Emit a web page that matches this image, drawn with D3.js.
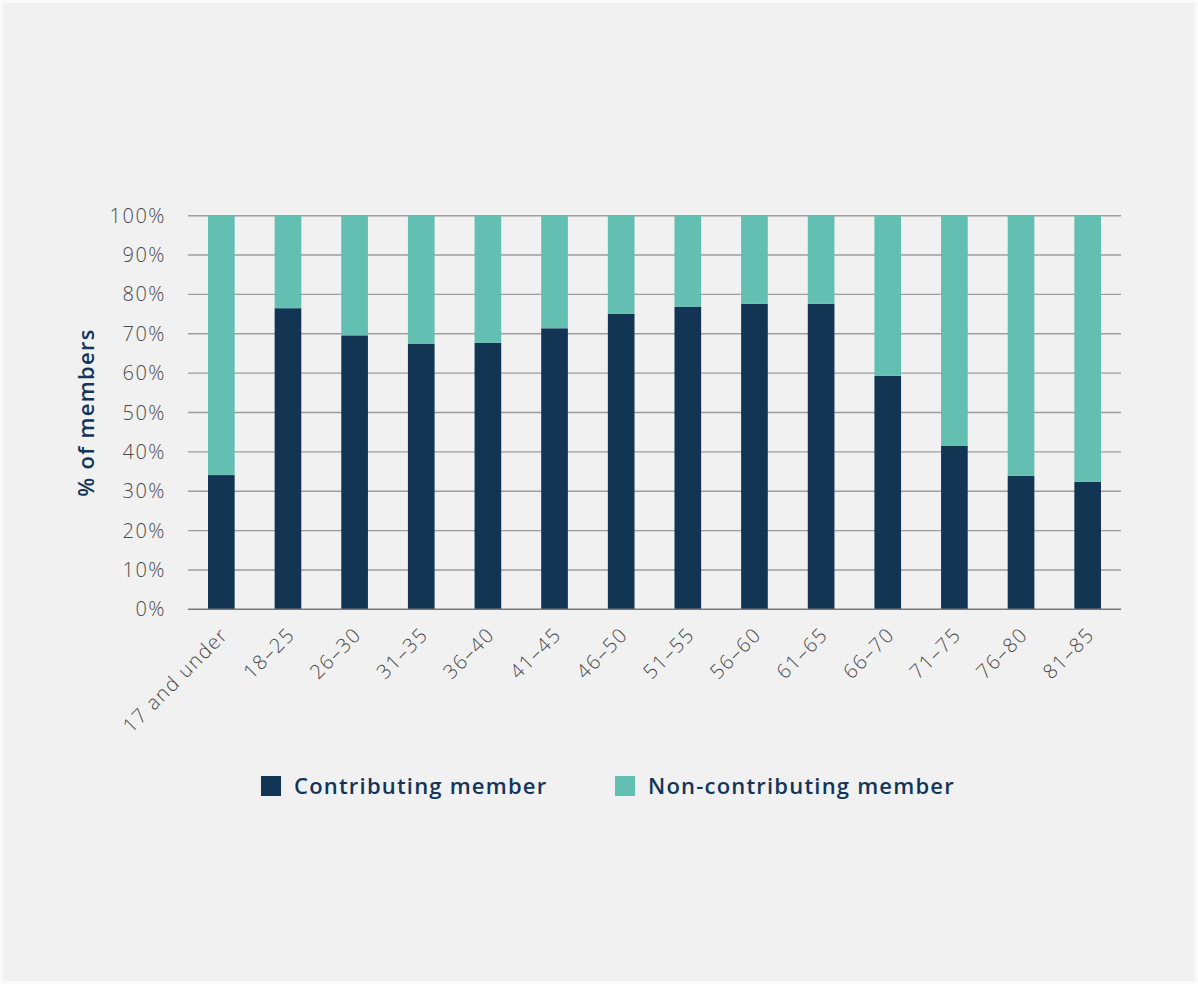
<!DOCTYPE html>
<html>
<head>
<meta charset="utf-8">
<script src="https://cdn.jsdelivr.net/npm/d3@7"></script>
<style>
  html, body { margin: 0; padding: 0; background: #fafafa; }
  svg { display: block; }
</style>
</head>
<body>
<script>
// Share of members by age band, split by contribution status
const ageBands = ["17 and under", "18–25", "26–30", "31–35", "36–40", "41–45", "46–50",
                  "51–55", "56–60", "61–65", "66–70", "71–75", "76–80", "81–85"];
const contributing = [34.1, 76.5, 69.6, 67.5, 67.7, 71.4, 75.1, 76.9, 77.6, 77.6, 59.3, 41.5, 33.9, 32.4];
const nonContributing = contributing.map(v => 100 - v);
const yTicks = [0, 10, 20, 30, 40, 50, 60, 70, 80, 90, 100];
const seriesNames = ["Contributing member", "Non-contributing member"];
const seriesColors = ["#113552", "#62bfb1"];

const W = 1198, H = 984;
const font = "'Open Sans', 'Noto Sans', sans-serif";

const svg = d3.select("body").append("svg")
  .attr("width", W).attr("height", H);

svg.append("rect")
  .attr("x", 3).attr("y", 3).attr("width", W - 6).attr("height", H - 6)
  .attr("fill", "#f1f1f1");

const x = d3.scaleBand()
  .domain(ageBands)
  .range([188, 1121])
  .paddingInner(0.6)
  .paddingOuter(0.3);

const y = d3.scaleLinear()
  .domain([0, 100])
  .range([609.3, 215.7]);

// gridlines
svg.append("g").selectAll("line")
  .data(yTicks.filter(t => t > 0))
  .join("line")
  .attr("x1", 188).attr("x2", 1121)
  .attr("y1", d => y(d)).attr("y2", d => y(d))
  .attr("stroke", "#9d9d9d").attr("stroke-width", 1.4);

// stacked bars
const rows = ageBands.map((a, i) => ({ band: a, c: contributing[i], n: nonContributing[i] }));
const stack = d3.stack().keys(["c", "n"])(rows);

svg.append("g").selectAll("g")
  .data(stack)
  .join("g")
  .attr("fill", (d, i) => seriesColors[i])
  .selectAll("rect")
  .data(d => d)
  .join("rect")
  .attr("x", d => x(d.data.band))
  .attr("width", x.bandwidth())
  .attr("y", d => y(d[1]))
  .attr("height", d => y(d[0]) - y(d[1]));

// baseline
svg.append("line")
  .attr("x1", 188).attr("x2", 1121)
  .attr("y1", y(0)).attr("y2", y(0))
  .attr("stroke", "#7a7a7a").attr("stroke-width", 1.5);

// y tick labels
svg.append("g").selectAll("text")
  .data(yTicks)
  .join("text")
  .attr("x", 166)
  .attr("y", d => y(d))
  .attr("dy", "0.35em")
  .attr("text-anchor", "end")
  .attr("font-family", font)
  .attr("font-size", 20)
  .attr("font-weight", 300)
  .attr("letter-spacing", 1.5)
  .attr("fill", "#4a4a4a")
  .text(d => d + "%");

// x category labels
svg.append("g").selectAll("text")
  .data(ageBands)
  .join("text")
  .attr("transform", d => `translate(${x(d) + x.bandwidth() / 2 + 8},${636}) rotate(-45)`)
  .attr("text-anchor", "end")
  .attr("font-family", font)
  .attr("font-size", 20)
  .attr("font-weight", 300)
  .attr("letter-spacing", 1.4)
  .attr("fill", "#474747")
  .text(d => d);

// y axis title
svg.append("text")
  .attr("transform", `translate(94,${(y(0) + y(100)) / 2}) rotate(-90)`)
  .attr("text-anchor", "middle")
  .attr("font-family", font)
  .attr("font-size", 22)
  .attr("font-weight", 600)
  .attr("letter-spacing", 1.3)
  .attr("fill", "#12355b")
  .text("% of members");

// legend
const legendX = [261, 615];
const legend = svg.append("g").selectAll("g")
  .data(seriesNames)
  .join("g")
  .attr("transform", (d, i) => `translate(${legendX[i]},776)`);
legend.append("rect")
  .attr("width", 20).attr("height", 20)
  .attr("fill", (d, i) => seriesColors[i]);
legend.append("text")
  .attr("x", 33).attr("y", 18)
  .attr("font-family", font)
  .attr("font-size", 22)
  .attr("font-weight", 600)
  .attr("letter-spacing", 1.2)
  .attr("fill", "#12355b")
  .text(d => d);
</script>
</body>
</html>
